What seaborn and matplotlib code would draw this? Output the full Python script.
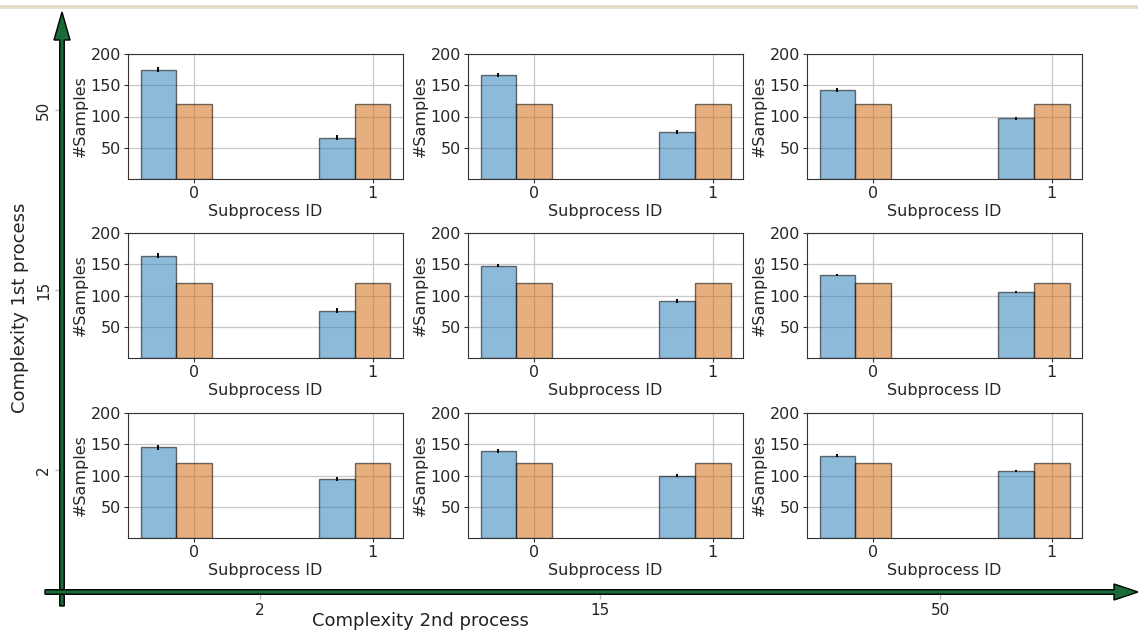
import numpy as np
import matplotlib
matplotlib.use("Agg")
import matplotlib.pyplot as plt
from matplotlib.patches import FancyArrow
from matplotlib.lines import Line2D
import seaborn as sns

# complexity levels of the two processes
rows_c1 = ["50", "15", "2"]      # top to bottom
cols_c2 = ["2", "15", "50"]      # left to right
sub_ids = [0, 1]

# measured #samples per subprocess (blue), rows x cols x subprocess
measured = [
    [[175, 66], [166, 75], [142, 97]],
    [[164, 76], [148, 91], [133, 106]],
    [[145, 94], [139, 100], [132, 107]],
]
measured_err = [
    [[4, 4], [3, 3], [3, 3]],
    [[4, 4], [3, 3], [2, 2]],
    [[3.5, 3.5], [3, 3], [2, 2]],
]
# expected #samples (orange)
expected = [120, 120]

sns.set_style("white", {"axes.grid": True, "grid.color": "#c8c8c8",
                        "axes.edgecolor": "#333333",
                        "xtick.bottom": True, "ytick.left": True})

W, H = 1138, 633
fig = plt.figure(figsize=(W / 100, H / 100), dpi=100)

blue = (0.122, 0.467, 0.706, 0.5)
orange = (0.82, 0.38, 0.0, 0.5)
green = "#1b6b3a"

# outer "axes" made of arrows
outer = fig.add_axes([62 / W, (H - 592) / H, (W - 62) / W, (592 - 12) / H])
outer.set_xlim(62, W)
outer.set_ylim(592, 12)
for s in outer.spines.values():
    s.set_visible(False)
outer.grid(False)
outer.set_facecolor("none")
outer.set_xticks([260, 600, 940], cols_c2)
outer.set_yticks([110, 290, 470], rows_c1)
outer.tick_params(axis="both", colors="#bbbbbb", labelcolor="#222222",
                  labelsize=11, length=5, width=1, pad=3)
for lab in outer.get_yticklabels():
    lab.set_rotation(90)
    lab.set_va("center")
outer.add_patch(FancyArrow(62, 606, 0, -594, width=4.5, head_width=16,
                           head_length=28, length_includes_head=True,
                           fc=green, ec="black", lw=1, clip_on=False))
outer.add_patch(FancyArrow(45, 592, 1093, 0, width=4.5, head_width=16,
                           head_length=24, length_includes_head=True,
                           fc=green, ec="black", lw=1, clip_on=False))

fig.text(420 / W, 1 - 621 / H, "Complexity 2nd process", fontsize=13,
         ha="center", va="center", color="#222222")
fig.text(20 / W, 1 - 308 / H, "Complexity 1st process", fontsize=13,
         ha="center", va="center", rotation=90, color="#222222")

# beige rule at the top
fig.add_artist(Line2D([0, 1], [1 - 6.5 / H, 1 - 6.5 / H], color="#e0dac8",
                      lw=2.6, transform=fig.transFigure))

col_left = [128, 468, 807]
row_top = [54, 233, 413]
aw, ah = 275, 125
x = np.array(sub_ids, dtype=float)
bw = 0.2

for r in range(3):
    for c in range(3):
        ax = fig.add_axes([col_left[c] / W, (H - row_top[r] - ah) / H, aw / W, ah / H])
        ax.bar(x - bw, measured[r][c], width=bw, color=blue,
               edgecolor=(0, 0, 0, 0.55), lw=1)
        ax.bar(x, expected, width=bw, color=orange,
               edgecolor=(0, 0, 0, 0.55), lw=1)
        ax.errorbar(x - bw, measured[r][c], yerr=measured_err[r][c],
                    fmt="none", ecolor="black", elinewidth=1.4)
        ax.set_ylim(0, 200)
        ax.set_yticks([50, 100, 150, 200])
        ax.set_xticks(sub_ids)
        ax.tick_params(labelsize=11.5, length=3, pad=2, color="#333333")
        ax.set_xlabel("Subprocess ID", fontsize=11.5, labelpad=2)
        ax.set_ylabel("#Samples", fontsize=11.5, labelpad=2)
        ax.grid(True, color="#c8c8c8", lw=0.9)

fig.savefig("out.png", dpi=100)
